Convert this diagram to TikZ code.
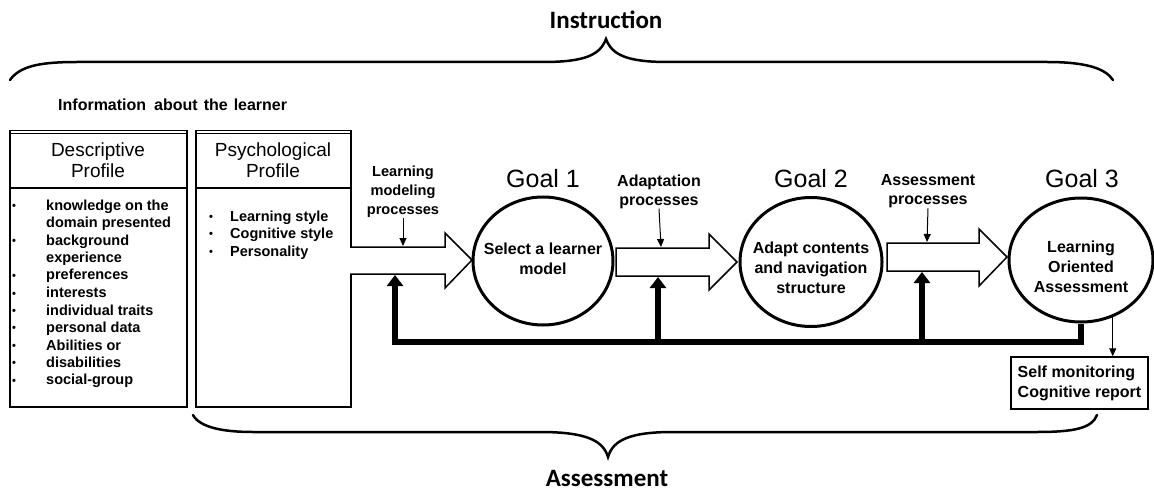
\documentclass[tikz,border=0pt]{standalone}
\usepackage{fontspec}
\setmainfont{Liberation Sans}
\newfontfamily\carlito{Carlito}
\usetikzlibrary{shapes.geometric,arrows.meta}
\newcommand{\bul}{\raisebox{0.5pt}{\fontsize{11}{11}\selectfont\textbullet}}
\begin{document}
\begin{tikzpicture}[x=1pt,y=-1pt,
  bigtitle/.style={font=\carlito\bfseries\fontsize{25}{30}\selectfont, inner sep=0},
  lbl/.style={font=\bfseries\fontsize{16}{19}\selectfont, align=center, inner sep=0},
  ctext/.style={font=\bfseries\fontsize{16}{20}\selectfont, align=center, inner sep=0},
  goaltitle/.style={font=\fontsize{25}{30}\selectfont, inner sep=0},
  goal/.style={ellipse, draw, line width=3pt, inner sep=0},
  hdr/.style={font=\fontsize{19}{21}\selectfont, align=center, inner sep=0},
  boxx/.style={draw, line width=1.5pt, inner sep=0},
  blockarrow/.style={draw, line width=1.5pt, line join=miter, fill=white},
  thinarr/.style={-{Triangle[width=7pt,length=8pt]}, line width=1pt},
  fb/.style={line width=6pt, line join=miter},
  fbarr/.style={fb, -{Triangle[width=16pt,length=11pt]}},
  bracel/.style={line width=2.5pt, line cap=round}]
\useasboundingbox (0,0) rectangle (1154,492);

% Instruction brace
\node[bigtitle] (instr) at (606,20) {Instruction};
\draw[bracel] (10,80) .. controls (20,66) and (40,62) .. (77,62) -- (543,62)
  .. controls (585,62) and (600,55) .. (606,39)
  .. controls (612,55) and (627,62) .. (668,62) -- (1047,62)
  .. controls (1085,62) and (1105,68) .. (1113,80);

% Information about the learner
\node[anchor=west, inner sep=0, font=\bfseries\fontsize{16}{19}\selectfont] (info) at (58,105)
  {Information\hspace{8pt}about\hspace{6pt}the\hspace{6pt}learner};

% Descriptive profile box
\node[boxx, anchor=north west, minimum width=177, minimum height=276] (desc) at (9,130) {};
\draw[line width=1.5pt] ([yshift=-3.5pt]desc.north west) -- ([yshift=-3.5pt]desc.north east);
\draw[line width=1.5pt] (desc.west |- 0,188) -- (desc.east |- 0,188);
\node[hdr] (deschdr) at (98,160) {Descriptive\\Profile};
\node[anchor=base west, inner sep=0, font=\bfseries\fontsize{14.5}{17.5}\selectfont] (desclist) at (12,210)
{\begin{tabular}[t]{@{}p{34pt}@{}l@{}}
\bul & knowledge on the\\
 & domain presented\\
\bul & background\\
 & experience\\
\bul & preferences\\
\bul & interests\\
\bul & individual traits\\
\bul & personal data\\
\bul & Abilities or\\
\bul & disabilities\\
\bul & social-group
\end{tabular}};

% Psychological profile box
\node[boxx, anchor=north west, minimum width=155, minimum height=276] (psy) at (195,130) {};
\draw[line width=1.5pt] ([yshift=-3.5pt]psy.north west) -- ([yshift=-3.5pt]psy.north east);
\draw[line width=1.5pt] (psy.west |- 0,188) -- (psy.east |- 0,188);
\node[hdr] (psyhdr) at (273,160) {Psychological\\Profile};
\node[anchor=base west, inner sep=0, font=\bfseries\fontsize{14.5}{17.5}\selectfont] (psylist) at (209,221)
{\begin{tabular}[t]{@{}p{21pt}@{}l@{}}
\bul & Learning style\\
\bul & Cognitive style\\
\bul & Personality
\end{tabular}};

% Block arrows
\draw[blockarrow] (350,247) -- (445,247) -- (445,233) -- (472,260) -- (445,288) -- (445,274) -- (350,274);
\draw[blockarrow] (616,248) -- (709,248) -- (709,234) -- (737,262) -- (709,290) -- (709,276) -- (616,276) -- cycle;
\draw[blockarrow] (887,243) -- (979,243) -- (979,229) -- (1007,257) -- (979,286) -- (979,271) -- (887,271) -- cycle;
\coordinate (a1t) at (403,246);
\coordinate (a2t) at (661,247);
\coordinate (a3t) at (927,242);
\coordinate (a1b) at (395,275);
\coordinate (a2b) at (658,277);
\coordinate (a3b) at (922,272);
\coordinate (fbL) at (395,342);
\coordinate (r2) at (658,342);
\coordinate (r3) at (922,342);

% Goals
\node[goal, minimum width=140, minimum height=128] (g1) at (543,261) {};
\node[goal, minimum width=142, minimum height=129] (g2) at (811,262) {};
\node[goal, minimum width=144, minimum height=124] (g3) at (1081,260) {};
\node[goaltitle] (g1t) at (543,179) {Goal 1};
\node[goaltitle] (g2t) at (811,179) {Goal 2};
\node[goaltitle] (g3t) at (1082,179) {Goal 3};
\node[ctext] (g1x) at (543,259) {Select a learner\\model};
\node[ctext] (g2x) at (811,268) {Adapt contents\\and navigation\\structure};
\node[ctext] (g3x) at (1081,267) {Learning\\Oriented\\Assessment};

% Process labels
\node[lbl, font=\bfseries\fontsize{14.6}{19}\selectfont] (lm) at (403,192) {Learning\\modeling\\processes};
\node[lbl] (ap) at (659,191.5) {Adaptation\\processes};
\node[lbl] (asp) at (928,191.5) {Assessment\\processes};
\draw[thinarr] (lm.south) -- (a1t);
\draw[thinarr] (ap.south) -- (a2t);
\draw[thinarr] (asp.south) -- (a3t);

% Feedback
\draw[fbarr] (g3.south) |- (fbL) -- (a1b);
\draw[fbarr] (r2) -- (a2b);
\draw[fbarr] (r3) -- (a3b);

% Self monitoring
\node[boxx, minimum width=137, minimum height=52, align=left, font=\bfseries\fontsize{16}{20}\selectfont] (sm) at (1079.5,383) {Self monitoring\\Cognitive report};
\draw[thinarr] (g3.299) -- (g3.299 |- sm.north);

% Assessment brace
\draw[bracel] (193,415) .. controls (200,428) and (225,432) .. (253,432) -- (540,432)
  .. controls (585,432) and (603,440) .. (608,457)
  .. controls (613,440) and (630,432) .. (673,432) -- (1037,432)
  .. controls (1075,432) and (1092,428) .. (1097,415);
\node[bigtitle] (assess) at (607,478) {Assessment};
\end{tikzpicture}
\end{document}
